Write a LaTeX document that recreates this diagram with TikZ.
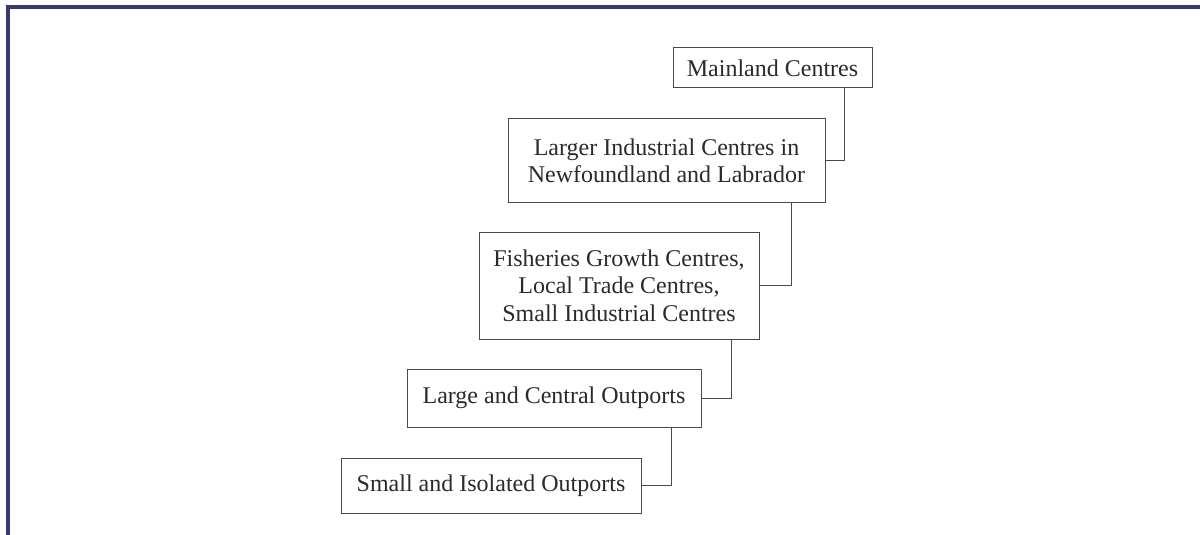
\documentclass[tikz,border=0pt]{standalone}
\usepackage{fontspec}
\setmainfont{Liberation Serif}
\usetikzlibrary{calc}
\definecolor{framenavy}{HTML}{353A70}
\definecolor{boxline}{HTML}{4A4A4A}
\definecolor{txt}{HTML}{2A2A2A}
\tikzset{
  level/.style={draw=boxline, line width=0.75pt, rectangle, inner sep=0pt,
    align=center, text=txt, font=\fontsize{18}{20.5}\selectfont},
  link/.style={draw=boxline, line width=0.75pt},
  frameline/.style={draw=framenavy, line width=2.3pt}
}
\begin{document}
\begin{tikzpicture}[x=0.75pt,y=-0.75pt]
  \useasboundingbox (0,0) rectangle (1200,535);
  % page frame: top and left rules
  \draw[frameline] (1200,7) -- (8,7) -- (8,535);

  % settlement levels, highest first
  \node[level, minimum width=199*0.75pt, minimum height=40*0.75pt] (m) at (772.5,68) {Mainland Centres};
  \node[level, minimum width=317*0.75pt, minimum height=83*0.75pt] (l) at (666.5,160.5) {Larger Industrial Centres in\\Newfoundland and Labrador};
  \node[level, minimum width=280*0.75pt, minimum height=107*0.75pt] (f) at (619,285.5) {Fisheries Growth Centres,\\Local Trade Centres,\\Small Industrial Centres};
  \node[level, minimum width=294*0.75pt, minimum height=58*0.75pt] (c) at (554,398) {Large and Central Outports};
  \node[level, minimum width=300*0.75pt, minimum height=55*0.75pt] (s) at (491,485.5) {Small and Isolated Outports};

  % elbow connectors between consecutive levels
  \coordinate (mout) at ($(m.south east)+(-28*0.75pt,0)$);
  \coordinate (lout) at ($(l.south east)+(-34*0.75pt,0)$);
  \coordinate (fout) at ($(f.south east)+(-28*0.75pt,0)$);
  \coordinate (cout) at ($(c.south east)+(-30*0.75pt,0)$);
  \draw[link] (mout) |- (l.east);
  \draw[link] (lout) |- (f.east);
  \draw[link] (fout) |- (c.east);
  \draw[link] (cout) |- (s.east);
\end{tikzpicture}
\end{document}
